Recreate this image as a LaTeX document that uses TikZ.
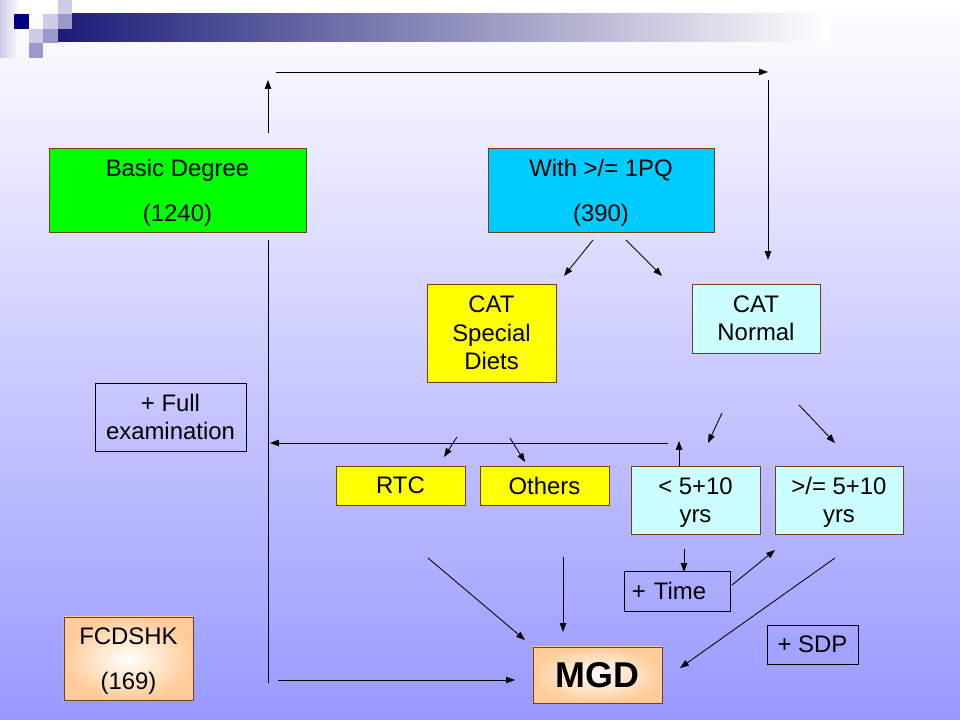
\documentclass[tikz,border=0pt]{standalone}
\usepackage{fontspec}
\setmainfont{Liberation Sans}
\usepackage{tikz}
\usetikzlibrary{arrows.meta}

\definecolor{bgblue}{RGB}{153,153,255}
\definecolor{barnavy}{RGB}{28,28,120}
\definecolor{sqnavy}{RGB}{0,0,128}
\definecolor{sqlight}{RGB}{204,204,230}
\definecolor{sqmid}{RGB}{153,153,204}
\definecolor{boxbrown}{RGB}{120,60,20}
\definecolor{degreegreen}{RGB}{0,255,0}
\definecolor{pqcyan}{RGB}{0,204,255}
\definecolor{catyellow}{RGB}{255,255,0}
\definecolor{palecyan}{RGB}{204,255,255}
\definecolor{peach}{RGB}{255,204,153}

\begin{document}
\begin{tikzpicture}[x=0.025cm,y=-0.025cm,
    arr/.style={-{Triangle[length=2.2mm,width=1.6mm]},line width=0.6pt},
    box/.style={draw=boxbrown,line width=0.6pt,align=center,inner sep=0pt,
        font=\fontsize{17}{20.3}\selectfont},
    plainbox/.style={box,draw=black},
    glowbox/.style={box,shade,inner color=white,outer color=peach}]

    % slide background and header
    \useasboundingbox (0,0) rectangle (960,720);
    \shade[top color=white,bottom color=bgblue] (0,0) rectangle (960,720);
    \shade[left color=sqlight,right color=white] (0,0) rectangle (20,58);
    \shade[left color=barnavy,right color=white] (58,14) rectangle (830,42);
    \fill[sqnavy] (14,14) rectangle (29,29);
    \fill[sqlight] (58,0) rectangle (72,14);
    \fill[sqlight] (43,14) rectangle (58,29);
    \fill[sqlight] (29,29) rectangle (43,43);
    \fill[sqmid] (58,14) rectangle (72,29);
    \fill[sqmid] (43,29) rectangle (58,43);
    \fill[sqmid] (29,43) rectangle (43,58);

    % boxes
    \node[box,fill=degreegreen,text depth=0pt,minimum width=6.425cm,minimum height=2.1cm] (basic) at (177.5,190) {Basic Degree\\[11.7pt](1240)};
    \node[box,fill=pqcyan,text depth=0pt,minimum width=5.65cm,minimum height=2.1cm] (withpq) at (601,190) {With >/= 1PQ\\[11.7pt](390)};
    \node[box,fill=catyellow,minimum width=3.225cm,minimum height=2.45cm] (catsd) at (491.5,333) {CAT\\Special\\Diets};
    \node[box,fill=palecyan,minimum width=3.2cm,minimum height=1.725cm] (catn) at (756,318.5) {CAT\\Normal};
    \node[plainbox,minimum width=3.775cm,minimum height=1.7cm] (full) at (170.5,417) {+ Full\\examination};
    \node[box,fill=catyellow,minimum width=3.225cm,minimum height=0.975cm] (rtc) at (400.5,485.5) {RTC};
    \node[box,fill=catyellow,minimum width=3.225cm,minimum height=0.975cm] (others) at (544.5,485.5) {Others};
    \node[box,fill=palecyan,text depth=0pt,minimum width=3.225cm,minimum height=1.7cm] (less) at (695.5,500) {< 5+10\\yrs};
    \node[box,fill=palecyan,text depth=0pt,minimum width=3.2cm,minimum height=1.7cm] (geq) at (839,500) {>/= 5+10\\yrs};
    \node[plainbox,align=left,text width=2.25cm,inner xsep=0.2cm,minimum height=1cm] (time) at (677,591) {+ Time};
    \node[plainbox,minimum width=2.275cm,minimum height=0.975cm] (sdp) at (812.5,644.5) {+ SDP};
    \node[glowbox,minimum width=3.225cm,minimum height=1.4cm,font=\fontsize{25.5}{30}\selectfont\bfseries] (mgd) at (597.5,675) {MGD};
    \node[glowbox,text depth=0pt,minimum width=3.225cm,minimum height=2.075cm] (fcd) at (128.5,658.5) {FCDSHK\\[11.7pt](169)};

    % free ends of the arrows
    \coordinate (up1) at (268,133);   \coordinate (up2) at (268,80);
    \coordinate (top1) at (276,72);   \coordinate (top2) at (768,72);
    \coordinate (down1) at (768,80);  \coordinate (down2) at (768,260);
    \coordinate (pqa1) at (593,240);  \coordinate (pqa2) at (564,276);
    \coordinate (pqb1) at (626,240);  \coordinate (pqb2) at (662,276);
    \coordinate (vl1) at (268,240);   \coordinate (vl2) at (268,683);
    \coordinate (back1) at (668,443); \coordinate (back2) at (270,443);
    \coordinate (bot1) at (278,680);  \coordinate (bot2) at (515,680);
    \coordinate (lup1) at (679,466);  \coordinate (lup2) at (679,441);
    \coordinate (cna1) at (722,413);  \coordinate (cna2) at (708,443);
    \coordinate (cnb1) at (799,405);  \coordinate (cnb2) at (835,443);
    \coordinate (sda1) at (457,437);  \coordinate (sda2) at (444,457);
    \coordinate (sdb1) at (510,438);  \coordinate (sdb2) at (525,462);
    \coordinate (ma1) at (428,558);   \coordinate (ma2) at (525,640);
    \coordinate (mb1) at (563,557);   \coordinate (mb2) at (563,632);
    \coordinate (ta1) at (684,549);   \coordinate (ta2) at (684,572);
    \coordinate (tb1) at (732,585);   \coordinate (tb2) at (775,550);
    \coordinate (mc1) at (835,558);   \coordinate (mc2) at (680,668);

    % arrows
    \draw[arr] (up1) -- (up2);
    \draw[arr] (top1) -- (top2);
    \draw[arr] (down1) -- (down2);
    \draw[arr] (pqa1) -- (pqa2);
    \draw[arr] (pqb1) -- (pqb2);
    \draw[line width=0.6pt] (vl1) -- (vl2);
    \draw[arr] (back1) -- (back2);
    \draw[arr] (bot1) -- (bot2);
    \draw[arr] (lup1) -- (lup2);
    \draw[arr] (cna1) -- (cna2);
    \draw[arr] (cnb1) -- (cnb2);
    \draw[arr] (sda1) -- (sda2);
    \draw[arr] (sdb1) -- (sdb2);
    \draw[arr] (ma1) -- (ma2);
    \draw[arr] (mb1) -- (mb2);
    \draw[arr] (ta1) -- (ta2);
    \draw[arr] (tb1) -- (tb2);
    \draw[arr] (mc1) -- (mc2);

\end{tikzpicture}
\end{document}
